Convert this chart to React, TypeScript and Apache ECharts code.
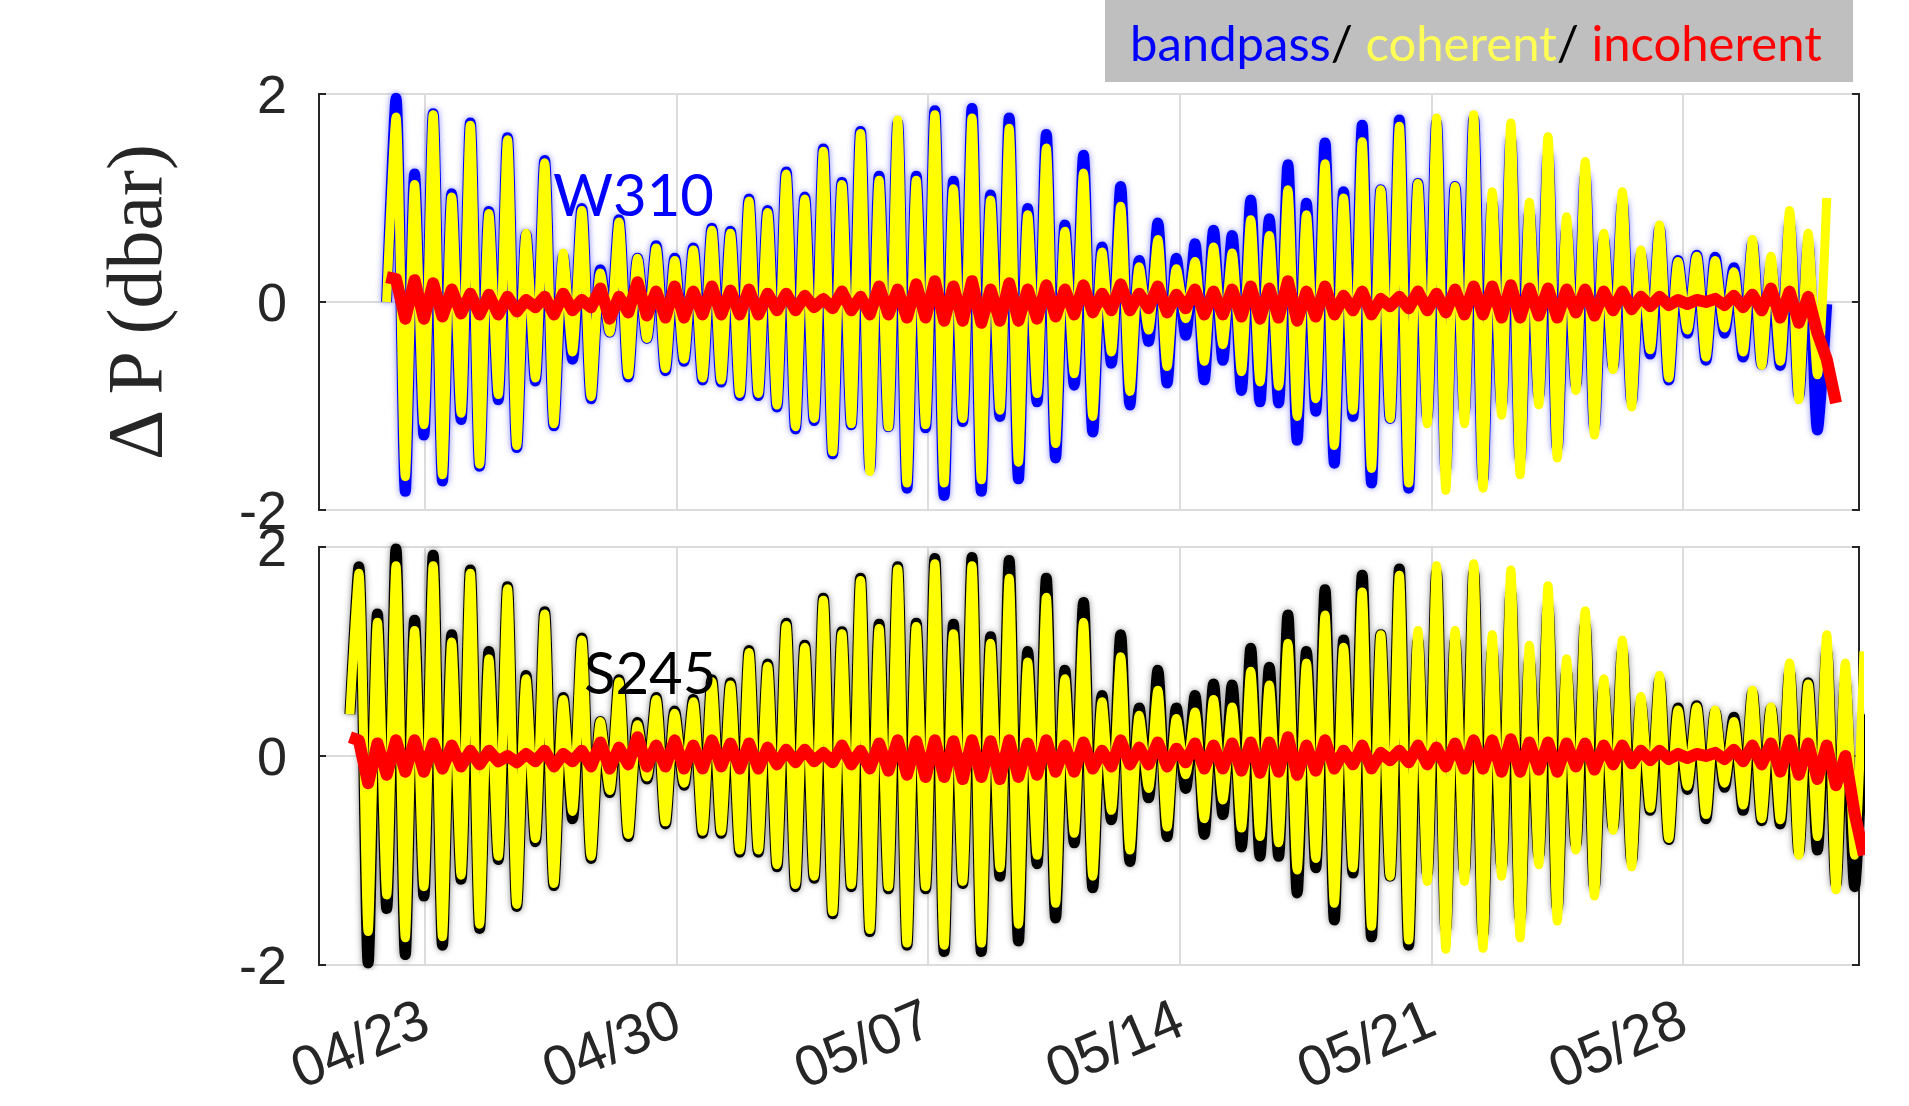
import React, { useEffect, useRef } from 'react';
import * as echarts from 'echarts';

// ---------- axis / tick definitions (days counted from March 31) ----------
const TICK_DAYS = [23, 30, 37, 44, 51, 58];
const TICK_LABELS = ['04/23', '04/30', '05/07', '05/14', '05/21', '05/28'];
const X_MIN = 20.05;
const X_MAX = 62.9;
const Y_TICKS = [-2, 0, 2];

// sampling of the tidal extremes (peak, then trough half a step later)
const HALF_STEP = 0.2585; // days between a peak and the following trough
const W310_FIRST_PEAK = 22.193;
const S245_FIRST_PEAK = 21.159;
const W310_START = 21.93;
const S245_START = 20.91;

// ---------- W310 (top panel): peak / trough values ----------
const w310BandHi = [
  1.96, 1.23, 1.81, 1.04, 1.72, 0.87, 1.58, 0.65, 1.36, 0.44,
  0.90, 0.31, 0.79, 0.42, 0.54, 0.42, 0.52, 0.71, 0.68, 0.99,
  0.88, 1.25, 1.01, 1.47, 1.15, 1.64, 1.21, 1.72, 1.21, 1.84,
  1.16, 1.86, 1.03, 1.77, 0.90, 1.61, 0.74, 1.41, 0.53, 1.11,
  0.40, 0.76, 0.42, 0.56, 0.69, 0.64, 0.98, 0.80, 1.32, 0.95,
  1.53, 1.06, 1.70, 1.08, 1.75, 1.14, 1.72, 1.11, 1.76, 0.95,
  1.55, 0.85, 1.40, 0.70, 1.20, 0.60, 0.95, 0.45, 0.70, 0.40,
  0.45, 0.43, 0.33, 0.56, 0.35, 0.74, 0.55, -0.02,
];
const w310BandLo = [
  -1.82, -1.28, -1.72, -1.13, -1.58, -0.94, -1.40, -0.76, -1.19, -0.55,
  -0.93, -0.29, -0.72, -0.35, -0.66, -0.57, -0.75, -0.77, -0.90, -0.90,
  -1.01, -1.22, -1.14, -1.46, -1.18, -1.60, -1.20, -1.79, -1.21, -1.86,
  -1.15, -1.82, -1.10, -1.70, -0.96, -1.50, -0.80, -1.25, -0.59, -0.99,
  -0.38, -0.78, -0.32, -0.75, -0.56, -0.85, -0.96, -0.97, -1.33, -1.05,
  -1.55, -1.10, -1.74, -1.12, -1.79, -1.10, -1.60, -1.05, -1.70, -0.98,
  -1.50, -0.90, -1.40, -0.80, -1.20, -0.62, -0.95, -0.50, -0.75, -0.30,
  -0.56, -0.30, -0.53, -0.60, -0.61, -0.90, -1.23,
];
const w310CohHi = [
  1.78, 1.13, 1.80, 1.01, 1.70, 0.85, 1.56, 0.66, 1.34, 0.47,
  0.88, 0.28, 0.77, 0.42, 0.52, 0.40, 0.50, 0.69, 0.66, 0.97,
  0.86, 1.23, 0.99, 1.45, 1.13, 1.62, 1.17, 1.75, 1.17, 1.80,
  1.09, 1.77, 0.98, 1.67, 0.84, 1.48, 0.68, 1.24, 0.48, 0.92,
  0.34, 0.60, 0.32, 0.39, 0.53, 0.47, 0.79, 0.64, 1.08, 0.84,
  1.33, 1.00, 1.54, 1.08, 1.69, 1.14, 1.77, 1.11, 1.80, 1.06,
  1.72, 0.96, 1.59, 0.82, 1.35, 0.66, 1.06, 0.50, 0.74, 0.39,
  0.44, 0.40, 0.29, 0.60, 0.44, 0.88, 0.66, 1.00,
];
const w310CohLo = [
  -1.68, -1.18, -1.66, -1.07, -1.56, -0.89, -1.38, -0.73, -1.17, -0.48,
  -0.91, -0.29, -0.70, -0.35, -0.64, -0.55, -0.73, -0.75, -0.88, -0.88,
  -0.99, -1.20, -1.12, -1.44, -1.17, -1.63, -1.20, -1.74, -1.18, -1.74,
  -1.12, -1.71, -1.04, -1.54, -0.88, -1.36, -0.69, -1.10, -0.48, -0.86,
  -0.27, -0.62, -0.16, -0.57, -0.41, -0.67, -0.77, -0.81, -1.10, -0.93,
  -1.38, -1.04, -1.60, -1.12, -1.74, -1.17, -1.81, -1.17, -1.79, -1.09,
  -1.66, -0.99, -1.50, -0.85, -1.28, -0.65, -1.01, -0.46, -0.73, -0.27,
  -0.53, -0.25, -0.48, -0.61, -0.57, -0.94, -0.70,
];
const w310IncHi = [
  0.22, 0.21, 0.18, 0.12, 0.08, 0.07, 0.05, 0.02, 0.05, 0.08,
  0.02, 0.13, 0.05, 0.19, 0.10, 0.15, 0.10, 0.15, 0.11, 0.12,
  0.08, 0.08, 0.06, 0.03, 0.10, 0.05, 0.15, 0.12, 0.17, 0.20,
  0.15, 0.20, 0.12, 0.18, 0.12, 0.16, 0.12, 0.16, 0.08, 0.17,
  0.08, 0.15, 0.07, 0.12, 0.10, 0.12, 0.15, 0.13, 0.20, 0.10,
  0.15, 0.06, 0.10, 0.03, 0.05, 0.10, 0.08, 0.12, 0.15, 0.15,
  0.16, 0.13, 0.13, 0.12, 0.12, 0.10, 0.10, 0.05, 0.05, 0.02,
  0.02, 0.03, 0.06, 0.07, 0.13, 0.10, 0.05, -0.55,
];
const w310IncLo = [
  -0.16, -0.16, -0.14, -0.11, -0.12, -0.12, -0.09, -0.05, -0.12, -0.08,
  -0.05, -0.16, -0.10, -0.13, -0.15, -0.15, -0.12, -0.12, -0.12, -0.12,
  -0.08, -0.08, -0.05, -0.06, -0.08, -0.12, -0.12, -0.15, -0.15, -0.18,
  -0.18, -0.20, -0.18, -0.18, -0.16, -0.14, -0.12, -0.10, -0.08, -0.08,
  -0.06, -0.10, -0.06, -0.12, -0.12, -0.14, -0.16, -0.15, -0.18, -0.14,
  -0.12, -0.08, -0.12, -0.04, -0.06, -0.08, -0.10, -0.12, -0.12, -0.15,
  -0.15, -0.13, -0.15, -0.10, -0.13, -0.08, -0.07, -0.04, -0.03, -0.02,
  0.00, -0.03, -0.05, -0.08, -0.15, -0.20, -0.30, -0.97,
];
const w310StartBand = 0.0;
const w310StartCoh = 0.0;
const w310StartInc = 0.24;

// ---------- S245 (bottom panel) ----------
const s245BandHi = [
  1.81, 1.36, 1.98, 1.30, 1.92, 1.16, 1.78, 1.00, 1.62, 0.77,
  1.38, 0.56, 1.13, 0.33, 0.73, 0.32, 0.56, 0.43, 0.54, 0.73,
  0.70, 1.01, 0.88, 1.27, 1.06, 1.51, 1.19, 1.70, 1.26, 1.81,
  1.27, 1.89, 1.26, 1.90, 1.14, 1.87, 1.00, 1.70, 0.82, 1.47,
  0.58, 1.16, 0.46, 0.82, 0.46, 0.58, 0.69, 0.68, 1.03, 0.85,
  1.35, 1.00, 1.59, 1.11, 1.73, 1.16, 1.79, 1.10, 1.75, 1.10,
  1.75, 1.00, 1.55, 0.90, 1.42, 0.80, 1.25, 0.65, 1.00, 0.50,
  0.72, 0.46, 0.48, 0.42, 0.37, 0.60, 0.45, 0.80, 0.70, 1.00,
  0.70, 0.40,
];
const s245BandLo = [
  -1.98, -1.46, -1.90, -1.34, -1.81, -1.18, -1.65, -0.99, -1.44, -0.82,
  -1.24, -0.60, -0.98, -0.35, -0.77, -0.22, -0.65, -0.28, -0.74, -0.74,
  -0.92, -0.92, -1.06, -1.25, -1.17, -1.51, -1.25, -1.68, -1.27, -1.81,
  -1.27, -1.87, -1.22, -1.87, -1.15, -1.77, -1.03, -1.55, -0.83, -1.26,
  -0.61, -1.01, -0.40, -0.77, -0.31, -0.75, -0.56, -0.87, -0.96, -0.96,
  -1.31, -1.07, -1.57, -1.12, -1.73, -1.15, -1.81, -1.12, -1.65, -1.10,
  -1.70, -1.05, -1.55, -0.95, -1.45, -0.85, -1.25, -0.68, -1.00, -0.52,
  -0.80, -0.32, -0.60, -0.30, -0.52, -0.62, -0.65, -0.92, -0.90, -1.23,
  -1.25,
];
const s245CohHi = [
  1.75, 1.28, 1.82, 1.20, 1.82, 1.09, 1.75, 0.93, 1.60, 0.74,
  1.36, 0.54, 1.11, 0.33, 0.71, 0.30, 0.54, 0.41, 0.52, 0.71,
  0.68, 0.99, 0.86, 1.25, 1.04, 1.49, 1.17, 1.68, 1.22, 1.79,
  1.24, 1.84, 1.17, 1.82, 1.08, 1.70, 0.90, 1.52, 0.74, 1.28,
  0.52, 0.95, 0.39, 0.63, 0.36, 0.42, 0.54, 0.47, 0.81, 0.68,
  1.08, 0.89, 1.35, 1.04, 1.57, 1.16, 1.73, 1.20, 1.82, 1.20,
  1.84, 1.16, 1.78, 1.06, 1.63, 0.93, 1.39, 0.74, 1.11, 0.57,
  0.77, 0.44, 0.47, 0.44, 0.33, 0.63, 0.47, 0.89, 0.69, 1.16,
  0.89, 1.00,
];
const s245CohLo = [
  -1.68, -1.33, -1.74, -1.25, -1.73, -1.14, -1.61, -0.96, -1.42, -0.79,
  -1.22, -0.53, -0.96, -0.33, -0.75, -0.20, -0.63, -0.26, -0.72, -0.72,
  -0.90, -0.90, -1.04, -1.23, -1.15, -1.49, -1.23, -1.66, -1.25, -1.79,
  -1.25, -1.81, -1.20, -1.79, -1.07, -1.61, -0.95, -1.41, -0.74, -1.15,
  -0.52, -0.90, -0.31, -0.68, -0.18, -0.60, -0.42, -0.69, -0.77, -0.83,
  -1.09, -0.98, -1.41, -1.07, -1.63, -1.15, -1.76, -1.20, -1.85, -1.20,
  -1.84, -1.15, -1.74, -1.04, -1.58, -0.90, -1.34, -0.71, -1.06, -0.50,
  -0.79, -0.29, -0.56, -0.26, -0.47, -0.60, -0.61, -0.95, -0.77, -1.28,
  -0.95,
];
const s245IncHi = [
  0.15, 0.12, 0.15, 0.15, 0.12, 0.10, 0.05, 0.05, 0.00, 0.02,
  0.05, 0.02, 0.05, 0.13, 0.08, 0.18, 0.10, 0.15, 0.10, 0.15,
  0.12, 0.12, 0.08, 0.06, 0.06, 0.03, 0.10, 0.05, 0.12, 0.15,
  0.14, 0.15, 0.14, 0.15, 0.14, 0.15, 0.12, 0.15, 0.10, 0.13,
  0.05, 0.15, 0.08, 0.13, 0.07, 0.12, 0.10, 0.12, 0.13, 0.13,
  0.18, 0.10, 0.15, 0.05, 0.10, 0.03, 0.05, 0.10, 0.08, 0.12,
  0.15, 0.15, 0.16, 0.13, 0.13, 0.12, 0.12, 0.10, 0.10, 0.05,
  0.05, 0.02, 0.02, 0.03, 0.06, 0.10, 0.12, 0.15, 0.12, 0.10,
  0.00, -0.95,
];
const s245IncLo = [
  -0.26, -0.18, -0.15, -0.15, -0.12, -0.10, -0.08, -0.05, -0.06, -0.05,
  -0.10, -0.05, -0.10, -0.12, -0.08, -0.10, -0.10, -0.12, -0.12, -0.10,
  -0.12, -0.12, -0.08, -0.06, -0.05, -0.06, -0.08, -0.12, -0.14, -0.18,
  -0.20, -0.20, -0.22, -0.20, -0.22, -0.20, -0.18, -0.15, -0.15, -0.12,
  -0.10, -0.08, -0.08, -0.10, -0.06, -0.12, -0.12, -0.14, -0.16, -0.15,
  -0.18, -0.14, -0.12, -0.08, -0.12, -0.04, -0.06, -0.08, -0.10, -0.12,
  -0.12, -0.15, -0.15, -0.13, -0.15, -0.10, -0.13, -0.08, -0.07, -0.04,
  -0.03, -0.02, 0.00, -0.03, -0.05, -0.08, -0.15, -0.18, -0.22, -0.28,
  -0.55,
];
const s245StartBand = 0.4;
const s245StartCoh = 0.4;
const s245StartInc = 0.18;

// ---------- build [time, value] pairs from the read extremes ----------
function extremes(firstPeak: number, startT: number, startV: number, hi: number[], lo: number[]) {
  const pts: number[][] = [[startT, startV]];
  for (let i = 0; i < hi.length; i++) {
    const tp = firstPeak + 2 * HALF_STEP * i;
    pts.push([tp, hi[i]]);
    if (i < lo.length) pts.push([tp + HALF_STEP, lo[i]]);
  }
  return pts;
}

const AX = '#262626';
const GRID_LINE = '#dcdcdc';

function xAxisCfg(gridIndex: number, position: string, showLabel: boolean, showSplit: boolean) {
  return {
    type: 'value',
    gridIndex,
    position,
    min: X_MIN,
    max: X_MAX,
    axisLine: { show: false },
    axisTick: {
      show: true,
      inside: true,
      length: 7,
      customValues: TICK_DAYS,
      lineStyle: { color: AX, width: 2 },
    },
    axisLabel: {
      show: showLabel,
      customValues: TICK_DAYS,
      formatter: (v: number) => {
        const i = TICK_DAYS.indexOf(Math.round(v));
        return i >= 0 ? TICK_LABELS[i] : '';
      },
      rotate: 23,
      margin: 50,
      fontSize: 57,
      fontFamily: 'Liberation Sans',
      color: AX,
    },
    splitLine: { show: showSplit, lineStyle: { color: GRID_LINE, width: 2 } },
  };
}

function yAxisCfg(gridIndex: number, position: string, showLabel: boolean, showSplit: boolean, name?: string) {
  return {
    type: 'value',
    gridIndex,
    position,
    min: Y_TICKS[0],
    max: Y_TICKS[Y_TICKS.length - 1],
    interval: 2,
    name: name || '',
    nameLocation: 'middle',
    nameGap: 146,
    nameTextStyle: { fontFamily: 'Liberation Serif', fontSize: 78, color: AX },
    axisLine: { show: false },
    axisTick: { show: true, inside: true, length: 7, lineStyle: { color: AX, width: 2 } },
    axisLabel: {
      show: showLabel,
      margin: 32,
      fontSize: 54,
      fontFamily: 'Liberation Sans',
      color: AX,
    },
    splitLine: { show: showSplit, lineStyle: { color: GRID_LINE, width: 2 } },
  };
}

function lineSeries(
  xi: number, yi: number, data: number[][], color: string, width: number, z: number,
  smooth: number | boolean, shadow?: string,
) {
  return {
    type: 'line',
    xAxisIndex: xi,
    yAxisIndex: yi,
    data,
    symbol: 'none',
    showSymbol: false,
    smooth,
    silent: true,
    z,
    lineStyle: {
      color, width, cap: 'butt', join: 'round',
      ...(shadow ? { shadowColor: shadow, shadowBlur: 6 } : {}),
    },
  };
}

export default function App() {
  const ref = useRef<HTMLDivElement>(null);
  useEffect(() => {
    if (!ref.current) return;
    const chart = echarts.init(ref.current, null, { renderer: 'svg' });
    const option: any = {
      animation: false,
      backgroundColor: '#ffffff',
      grid: [
        { left: 319, top: 94, width: 1540, height: 416, show: true, borderColor: AX, borderWidth: 2, backgroundColor: 'transparent' },
        { left: 319, top: 547, width: 1540, height: 418, show: true, borderColor: AX, borderWidth: 2, backgroundColor: 'transparent' },
      ],
      xAxis: [
        xAxisCfg(0, 'bottom', false, true),
        xAxisCfg(0, 'top', false, false),
        xAxisCfg(1, 'bottom', true, true),
        xAxisCfg(1, 'top', false, false),
      ],
      yAxis: [
        yAxisCfg(0, 'left', true, true, 'Δ P (dbar)'),
        yAxisCfg(0, 'right', false, false),
        yAxisCfg(1, 'left', true, true),
        yAxisCfg(1, 'right', false, false),
      ],
      series: [
        lineSeries(0, 0, extremes(W310_FIRST_PEAK, W310_START, w310StartBand, w310BandHi, w310BandLo), '#0000ff', 11, 2, 0.25, 'rgba(90,90,255,0.7)'),
        lineSeries(0, 0, extremes(W310_FIRST_PEAK, W310_START, w310StartCoh, w310CohHi, w310CohLo), '#ffff00', 9, 3, 0.25),
        lineSeries(0, 0, extremes(W310_FIRST_PEAK, W310_START, w310StartInc, w310IncHi, w310IncLo), '#ff0000', 12, 4, false),
        lineSeries(2, 2, extremes(S245_FIRST_PEAK, S245_START, s245StartBand, s245BandHi, s245BandLo), '#000000', 11, 2, 0.25, 'rgba(60,60,60,0.6)'),
        lineSeries(2, 2, extremes(S245_FIRST_PEAK, S245_START, s245StartCoh, s245CohHi, s245CohLo), '#ffff00', 9, 3, 0.25),
        lineSeries(2, 2, extremes(S245_FIRST_PEAK, S245_START, s245StartInc, s245IncHi, s245IncLo), '#ff0000', 12, 4, false),
      ],
      graphic: [
        { type: 'rect', left: 1105, top: 0, shape: { width: 748, height: 82 }, style: { fill: '#bfbfbf' }, z: 10 },
        {
          type: 'text',
          x: 1130,
          y: 42,
          z: 11,
          style: {
            text: '{b|bandpass}{k|/ }{c|coherent}{k|/ }{r|incoherent}',
            verticalAlign: 'middle',
            fontFamily: 'Lato',
            fontSize: 49,
            rich: {
              b: { fill: '#0000ff', fontFamily: 'Lato', fontSize: 49 },
              k: { fill: '#000000', fontFamily: 'Lato', fontSize: 49 },
              c: { fill: '#ffff55', fontFamily: 'Lato', fontSize: 49 },
              r: { fill: '#ff0000', fontFamily: 'Lato', fontSize: 49 },
            },
          },
        },
        {
          type: 'text', x: 553, y: 193, z: 12,
          style: { text: 'W310', fill: '#0000ff', fontFamily: 'Lato', fontSize: 58, verticalAlign: 'middle' },
        },
        {
          type: 'text', x: 584, y: 671, z: 12,
          style: { text: 'S245', fill: '#000000', fontFamily: 'Lato', fontSize: 58, verticalAlign: 'middle' },
        },
      ],
    };
    chart.setOption(option);
    return () => chart.dispose();
  }, []);
  return <div ref={ref} style={{ position: 'absolute', left: 0, top: 0, width: 1909, height: 1106 }} />;
}
